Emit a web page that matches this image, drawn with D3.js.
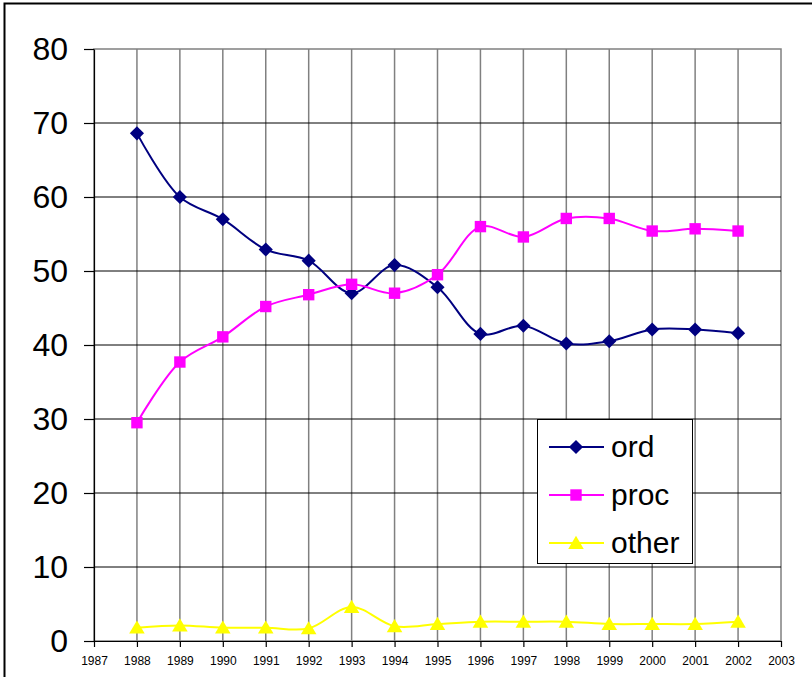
<!DOCTYPE html>
<html>
<head>
<meta charset="utf-8">
<script src="https://cdn.jsdelivr.net/npm/d3@7"></script>
<style>
  html, body { margin: 0; padding: 0; background: #fff; }
  svg { display: block; font-family: Arial, "Liberation Sans", sans-serif; }
</style>
</head>
<body>
<svg id="chart" width="812" height="677"></svg>
<script>
// Shares by year, in percent
const years = [1988, 1989, 1990, 1991, 1992, 1993, 1994, 1995, 1996, 1997, 1998, 1999, 2000, 2001, 2002];
const ordValues   = [68.6, 60.0, 57.0, 52.9, 51.4, 47.0, 50.8, 47.8, 41.5, 42.6, 40.2, 40.5, 42.1, 42.1, 41.6];
const procValues  = [29.5, 37.7, 41.1, 45.2, 46.8, 48.2, 47.0, 49.5, 56.0, 54.6, 57.1, 57.1, 55.4, 55.7, 55.4];
const otherValues = [1.8, 2.1, 1.8, 1.8, 1.7, 4.6, 2.0, 2.3, 2.6, 2.6, 2.6, 2.3, 2.3, 2.3, 2.6];
const seriesNames = ["ord", "proc", "other"];
const seriesColors = ["#000080", "#FF00FF", "#FFFF00"];
const xTicks = d3.range(1987, 2004);
const yTicks = [0, 10, 20, 30, 40, 50, 60, 70, 80];

// square diamond (a square turned 45 degrees)
const markerDiamond = {
  draw(ctx, size) {
    const r = Math.sqrt(size / 2);
    ctx.moveTo(0, -r); ctx.lineTo(r, 0); ctx.lineTo(0, r); ctx.lineTo(-r, 0); ctx.closePath();
  }
};
// wide triangle, base down
const markerTriangle = {
  draw(ctx, size) {
    const w = Math.sqrt(size * 2.3) / 2;
    const h = w * 1.7;
    ctx.moveTo(0, -h * 0.55); ctx.lineTo(w, h * 0.45); ctx.lineTo(-w, h * 0.45); ctx.closePath();
  }
};

const series = [
  { name: seriesNames[0], values: ordValues,   color: seriesColors[0], symbol: markerDiamond,   size: 100 },
  { name: seriesNames[1], values: procValues,  color: seriesColors[1], symbol: d3.symbolSquare, size: 130 },
  { name: seriesNames[2], values: otherValues, color: seriesColors[2], symbol: markerTriangle,  size: 105 }
];

const svg = d3.select("#chart");
const plotLeft = 94, plotRight = 781, plotTop = 49, plotBottom = 641;

const x = d3.scaleLinear().domain([1987, 2003]).range([plotLeft, plotRight]);
const y = d3.scaleLinear().domain([0, 80]).range([plotBottom, plotTop]);

// outer frame
svg.append("rect")
  .attr("x", 4.5).attr("y", 3.5).attr("width", 830).attr("height", 700)
  .attr("fill", "none").attr("stroke", "#000").attr("stroke-width", 2);

// plot area border (grey)
svg.append("rect")
  .attr("x", plotLeft).attr("y", plotTop).attr("width", plotRight - plotLeft).attr("height", plotBottom - plotTop)
  .attr("fill", "none").attr("stroke", "#808080").attr("stroke-width", 1.5);

// vertical grid (grey)
svg.append("g").selectAll("line").data(xTicks.slice(1, -1)).join("line")
  .attr("x1", d => x(d)).attr("x2", d => x(d))
  .attr("y1", plotTop).attr("y2", plotBottom)
  .attr("stroke", "#808080").attr("stroke-width", 1.5);

// horizontal grid (black)
svg.append("g").selectAll("line").data(yTicks.slice(1, -1)).join("line")
  .attr("x1", plotLeft).attr("x2", plotRight)
  .attr("y1", d => y(d)).attr("y2", d => y(d))
  .attr("stroke", "#000").attr("stroke-width", 1);

// y axis
const yAxis = svg.append("g")
  .attr("transform", `translate(${plotLeft},0)`)
  .call(d3.axisLeft(y).tickValues(yTicks).tickSize(10).tickPadding(16).tickSizeOuter(0));
yAxis.selectAll("path, line").attr("stroke", "#000").attr("stroke-width", 1.2);
yAxis.selectAll("text").attr("font-size", 32).attr("fill", "#000")
  .attr("font-family", "Arial, 'Liberation Sans', sans-serif");

// x axis
const xAxis = svg.append("g")
  .attr("transform", `translate(0,${plotBottom})`)
  .call(d3.axisBottom(x).tickValues(xTicks).tickFormat(d3.format("d")).tickSize(6).tickPadding(9).tickSizeOuter(0));
xAxis.selectAll("path, line").attr("stroke", "#000").attr("stroke-width", 1.2);
xAxis.selectAll("text").attr("font-size", 12).attr("fill", "#000")
  .attr("font-family", "Arial, 'Liberation Sans', sans-serif");

// series lines and markers
const line = d3.line()
  .x((d, i) => x(years[i]))
  .y(d => y(d))
  .curve(d3.curveCatmullRom.alpha(0.5));

series.forEach(s => {
  svg.append("path")
    .datum(s.values)
    .attr("fill", "none")
    .attr("stroke", s.color)
    .attr("stroke-width", 2)
    .attr("d", line);
  svg.append("g").selectAll("path").data(s.values).join("path")
    .attr("transform", (d, i) => `translate(${x(years[i])},${y(d)})`)
    .attr("d", d3.symbol().type(s.symbol).size(s.size))
    .attr("fill", s.color);
});

// legend
const legend = svg.append("g");
legend.append("rect")
  .attr("x", 537.5).attr("y", 419.5).attr("width", 155).attr("height", 144)
  .attr("fill", "#fff").attr("stroke", "#000").attr("stroke-width", 1);
series.forEach((s, i) => {
  const ly = 447 + i * 48;
  legend.append("line")
    .attr("x1", 549).attr("x2", 604).attr("y1", ly).attr("y2", ly)
    .attr("stroke", s.color).attr("stroke-width", 2);
  legend.append("path")
    .attr("transform", `translate(576,${ly})`)
    .attr("d", d3.symbol().type(s.symbol).size(s.size))
    .attr("fill", s.color);
  legend.append("text")
    .attr("x", 611).attr("y", ly + 10)
    .attr("font-size", 30).attr("fill", "#000")
    .text(s.name);
});
</script>
</body>
</html>
